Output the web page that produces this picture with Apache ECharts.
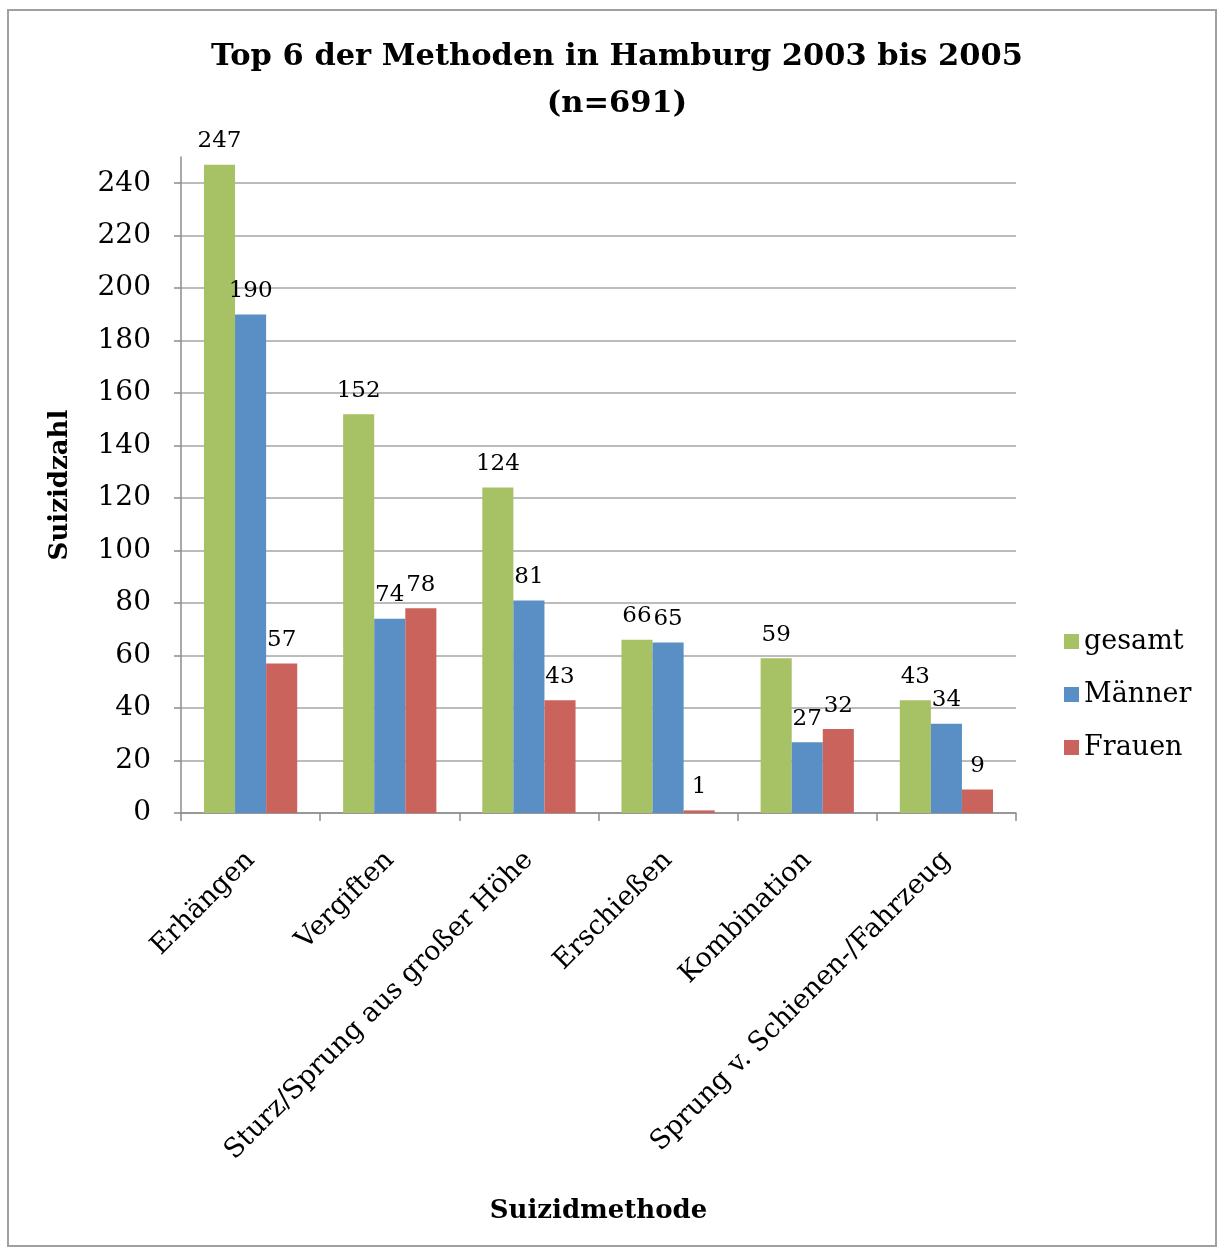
<!DOCTYPE html>
<html><head><meta charset="utf-8">
<script src="https://cdn.jsdelivr.net/npm/echarts@6/dist/echarts.min.js"></script>
<style>html,body{margin:0;padding:0;background:#fff}#c{width:1218px;height:1248px}</style>
</head><body><div id="c"></div>
<script>
const categories = ['Erhängen','Vergiften','Sturz/Sprung aus großer Höhe','Erschießen','Kombination','Sprung v. Schienen-/Fahrzeug'];
const gesamt = [247,152,124,66,59,43];
const maenner = [190,74,81,65,27,34];
const frauen = [57,78,43,1,32,9];
const seriesNames = ['gesamt','Männer','Frauen'];
const yTicks = [0,20,40,60,80,100,120,140,160,180,200,220,240];

const FONT = 'DejaVu Serif';
const gridColors = yTicks.map(()=> '#a6a6a6').concat(['rgba(0,0,0,0)']);
const chart = echarts.init(document.getElementById('c'));
const lbl = {show:true, position:'top', distance:12, fontFamily:FONT, fontSize:23, color:'#000'};
chart.setOption({
  animation:false,
  textStyle:{fontFamily:FONT},
  graphic:[{type:'rect', shape:{x:8,y:10,width:1208,height:1236}, style:{fill:'none', stroke:'#a0a0a0', lineWidth:2}}],
  title:{text:'Top 6 der Methoden in Hamburg 2003 bis 2005\n(n=691)', left:612, textAlign:'center', top:29,
    textStyle:{fontFamily:FONT, fontWeight:'bold', fontSize:30.5, lineHeight:47, color:'#000'}},
  legend:{orient:'vertical', left:1059, top:623, itemWidth:15, itemHeight:15, itemGap:26, icon:'rect',
    textStyle:{fontFamily:FONT, fontSize:27, color:'#000'}},
  grid:{left:181, right:202, top:157, bottom:435},
  xAxis:{type:'category', data:categories,
    name:'Suizidmethode', nameLocation:'middle', nameGap:385,
    nameTextStyle:{fontFamily:FONT, fontWeight:'bold', fontSize:26, color:'#000'},
    axisLine:{lineStyle:{color:'#8c8c8c', width:1.5}},
    axisTick:{show:true, length:8, lineStyle:{color:'#8c8c8c', width:1.5}},
    axisLabel:{rotate:45, interval:0, margin:43, fontFamily:FONT, fontSize:27, color:'#000'}},
  yAxis:{type:'value', min:0, max:250, interval:20,
    name:'Suizidzahl', nameLocation:'middle', nameGap:108, nameRotate:90,
    nameTextStyle:{fontFamily:FONT, fontWeight:'bold', fontSize:26, color:'#000'},
    axisLine:{show:true, lineStyle:{color:'#8c8c8c', width:1.5}},
    axisTick:{show:true, length:7, lineStyle:{color:'#8c8c8c', width:1.5}},
    splitLine:{show:true, lineStyle:{color:gridColors, width:1.5}},
    axisLabel:{margin:30, fontFamily:FONT, fontSize:28, color:'#000', showMaxLabel:false,
      formatter:(v)=> yTicks.includes(v) ? String(v) : ''}},
  series:[
    {name:seriesNames[0], type:'bar', data:gesamt, itemStyle:{color:'#a7c165'}, barGap:'0%', barCategoryGap:'33%', label:lbl},
    {name:seriesNames[1], type:'bar', data:maenner, itemStyle:{color:'#5a8fc6'}, label:lbl},
    {name:seriesNames[2], type:'bar', data:frauen, itemStyle:{color:'#c9635b'}, label:lbl}
  ]
});
</script></body></html>
